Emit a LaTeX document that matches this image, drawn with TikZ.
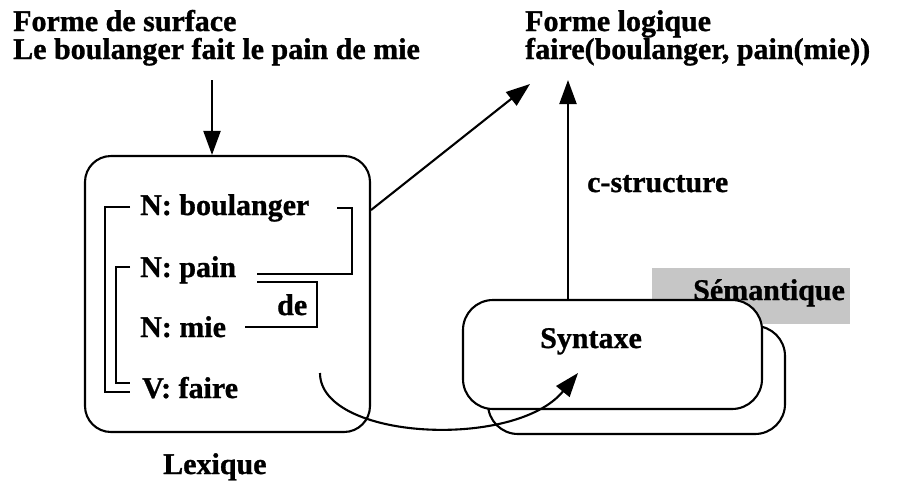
\documentclass[tikz,border=0pt]{standalone}
\usepackage{fontspec}
\setmainfont{Liberation Serif}[FakeBold=1]
\usetikzlibrary{arrows.meta,calc}
\begin{document}
\begin{tikzpicture}[x=1pt,y=-1pt,
  lbl/.style={font=\bfseries\fontsize{30}{31}\selectfont, inner sep=0pt, anchor=base west},
  conn/.style={line width=2.1pt},
  arr/.style={conn,-{Triangle[length=24pt,width=17pt]}},
  box/.style={draw, line width=2.1pt, fill=white, inner sep=0pt},
  graybox/.style={fill=gray!45, inner sep=0pt}]
\useasboundingbox (0,0) rectangle (899,483);

% top texts
\node[lbl] (fs1) at (13,31) {Forme de surface};
\node[lbl] (fs2) at (13,59) {Le boulanger fait le pain de mie};
\node[lbl] (fl1) at (525,31) {Forme logique};
\node[lbl] (fl2) at (525,59) {faire(boulanger, pain(mie))};

% lexique box
\node[box, rounded corners=26pt, minimum width=285pt, minimum height=276pt] (lex) at (227.5,294) {};
\node[lbl] (lexlbl) at (163,474) {Lexique};

\node[lbl] (boul) at (140,215) {N: boulanger};
\node[lbl] (pain) at (140,277) {N: pain};
\node[lbl] (mie) at (140,337) {N: mie};
\node[lbl] (faire) at (142,398) {V: faire};
\node[lbl] (de) at (277,315) {de};

% brackets
\draw[conn] ($(boul.base west)+(-10,-8)$) -- (105,207) -- (105,392) -- ($(faire.base west)+(-12,-6)$);
\draw[conn] ($(pain.base west)+(-10,-10)$) -- (116,267) -- (116,383) -- ($(faire.base west)+(-12,-15)$);
\draw[conn] ($(boul.base west)+(197,-7)$) -- (352,208) -- (352,274) -- ($(pain.base west)+(117,-3)$);
\draw[conn] ($(pain.base west)+(117,5)$) -- (317,282) -- (317,327) -- ($(mie.base west)+(105,-10)$);

% semantique / syntaxe
\node[graybox, minimum width=198pt, minimum height=56pt] (semg) at (751,296) {};
\node[lbl] (semlbl) at (693,300) {Sémantique};
\node[box, rounded corners=30pt, minimum width=297pt, minimum height=108pt] (sem) at (636.5,380) {};
\node[box, rounded corners=30pt, minimum width=299pt, minimum height=109pt] (syn) at (612.5,354.5) {};
\node[lbl] (synlbl) at (540,348) {Syntaxe};
\node[lbl] (cstr) at (587,192) {c-structure};

% arrows
\coordinate (s1) at (212,80);
\draw[arr] (s1) -- (s1 |- lex.north);
\coordinate (t1) at (530,84);
\draw[arr] (lex.east |- 0,210) -- (t1);
\coordinate (t2) at (568,80);
\draw[arr] (t2 |- syn.north) -- (t2);
\coordinate (c0) at (320,373);
\coordinate (c1) at (578,373);
\draw[arr] (c0) .. controls (320,440) and (515,450) .. (c1);
\end{tikzpicture}
\end{document}
